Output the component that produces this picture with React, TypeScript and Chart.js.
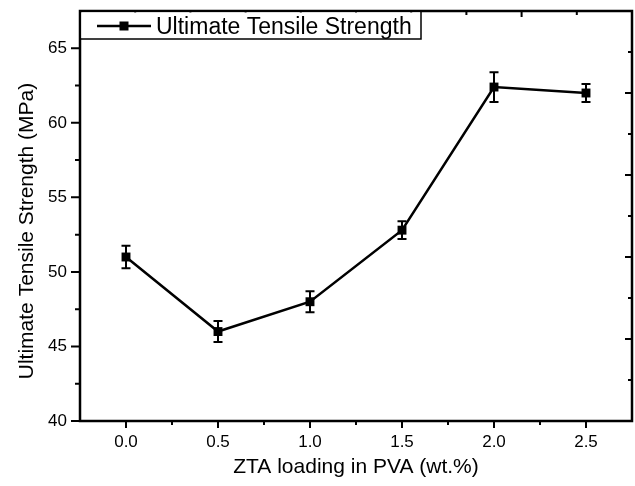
import React, { useEffect, useRef } from "react";
import { Chart, registerables } from "chart.js";

Chart.register(...registerables);

const seriesLabel = "Ultimate Tensile Strength";
const xValues = [0.0, 0.5, 1.0, 1.5, 2.0, 2.5];
const utsValues = [51.0, 46.0, 48.0, 52.8, 62.4, 62.0];
const utsErrors = [0.75, 0.7, 0.7, 0.6, 1.0, 0.6];
const xTickValues = [0.0, 0.5, 1.0, 1.5, 2.0, 2.5];
const xMinorValues = [0.25, 0.75, 1.25, 1.75, 2.25];
const yTickValues = [40, 45, 50, 55, 60, 65];
const yMinorValues = [42.5, 47.5, 52.5, 57.5, 62.5];
const xTitle = "ZTA loading in PVA (wt.%)";
const yTitle = "Ultimate Tensile Strength (MPa)";

const FONT = "'Liberation Sans', Arial, Helvetica, sans-serif";

const framePlugin = {
  id: "framePlugin",
  afterDatasetsDraw(chart: any) {
    const ctx = chart.ctx;
    const xs = chart.scales.x;
    const ys = chart.scales.y;
    const { left, right, top, bottom } = chart.chartArea;
    ctx.save();
    ctx.strokeStyle = "#000";
    ctx.fillStyle = "#000";
    // error bars
    ctx.lineWidth = 2;
    xValues.forEach((xv, i) => {
      const px = xs.getPixelForValue(xv);
      const yHi = ys.getPixelForValue(utsValues[i] + utsErrors[i]);
      const yLo = ys.getPixelForValue(utsValues[i] - utsErrors[i]);
      ctx.beginPath();
      ctx.moveTo(px, yHi);
      ctx.lineTo(px, yLo);
      ctx.moveTo(px - 4.5, yHi);
      ctx.lineTo(px + 4.5, yHi);
      ctx.moveTo(px - 4.5, yLo);
      ctx.lineTo(px + 4.5, yLo);
      ctx.stroke();
    });
    // frame
    ctx.lineWidth = 2.5;
    ctx.strokeRect(left, top, right - left, bottom - top);
    // bottom ticks (outward)
    ctx.lineWidth = 2;
    ctx.beginPath();
    xTickValues.forEach((v) => {
      const px = xs.getPixelForValue(v);
      ctx.moveTo(px, bottom);
      ctx.lineTo(px, bottom + 7);
    });
    xMinorValues.forEach((v) => {
      const px = xs.getPixelForValue(v);
      ctx.moveTo(px, bottom);
      ctx.lineTo(px, bottom + 4);
    });
    // left ticks (outward)
    yTickValues.forEach((v) => {
      const py = ys.getPixelForValue(v);
      ctx.moveTo(left, py);
      ctx.lineTo(left - 9, py);
    });
    yMinorValues.forEach((v) => {
      const py = ys.getPixelForValue(v);
      ctx.moveTo(left, py);
      ctx.lineTo(left - 5, py);
    });
    // top ticks (inward, 10 divisions)
    for (let k = 1; k < 10; k++) {
      const px = left + ((right - left) * k) / 10;
      const len = k % 2 === 0 ? 6 : 4;
      ctx.moveTo(px, top);
      ctx.lineTo(px, top + len);
    }
    // right ticks (inward, 10 divisions)
    for (let k = 1; k < 10; k++) {
      const py = top + ((bottom - top) * k) / 10;
      const len = k % 2 === 0 ? 7 : 4;
      ctx.moveTo(right, py);
      ctx.lineTo(right - len, py);
    }
    ctx.stroke();

    // legend box
    const lx0 = left, ly0 = top, lx1 = 421, ly1 = 39;
    ctx.fillStyle = "#fff";
    ctx.fillRect(lx0 + 1.5, ly0 + 1.5, lx1 - lx0 - 2, ly1 - ly0 - 2);
    ctx.lineWidth = 1.5;
    ctx.strokeStyle = "#000";
    ctx.strokeRect(lx0, ly0, lx1 - lx0, ly1 - ly0);
    ctx.lineWidth = 2.5;
    ctx.beginPath();
    ctx.moveTo(97, 26);
    ctx.lineTo(151, 26);
    ctx.stroke();
    ctx.fillStyle = "#000";
    ctx.fillRect(124 - 4.5, 26 - 4.5, 9, 9);
    ctx.font = `23px ${FONT}`;
    ctx.textAlign = "left";
    ctx.textBaseline = "alphabetic";
    ctx.fillText(seriesLabel, 156, 33.5);

    // axis titles
    ctx.font = `21px ${FONT}`;
    ctx.textAlign = "center";
    ctx.fillText(xTitle, (left + right) / 2, 473);
    ctx.save();
    ctx.translate(33, 231);
    ctx.rotate(-Math.PI / 2);
    ctx.fillText(yTitle, 0, 0);
    ctx.restore();
    ctx.restore();
  },
};

export default function App() {
  const canvasRef = useRef<HTMLCanvasElement | null>(null);

  useEffect(() => {
    document.body.style.margin = "0";
    const canvas = canvasRef.current;
    if (!canvas) return;
    const chart = new Chart(canvas, {
      type: "line",
      data: {
        datasets: [
          {
            label: seriesLabel,
            data: xValues.map((x, i) => ({ x, y: utsValues[i] })),
            borderColor: "#000",
            backgroundColor: "#000",
            borderWidth: 2.5,
            pointStyle: "rect",
            pointRadius: 6.3,
            pointBorderWidth: 0,
            pointBackgroundColor: "#000",
            tension: 0,
            clip: false as any,
          },
        ],
      },
      options: {
        animation: false,
        responsive: false,
        maintainAspectRatio: false,
        devicePixelRatio: 1,
        layout: { autoPadding: false, padding: { left: 0, right: 3, top: 11, bottom: 0 } },
        plugins: {
          legend: { display: false },
          tooltip: { enabled: false },
        },
        scales: {
          x: {
            type: "linear",
            min: -0.25,
            max: 2.75,
            grid: { display: false, drawTicks: false },
            border: { display: false },
            afterBuildTicks: (scale: any) => {
              scale.ticks = xTickValues.map((v) => ({ value: v }));
            },
            afterFit: (scale: any) => {
              scale.height = 65;
              scale.paddingLeft = 0;
              scale.paddingRight = 0;
              scale.paddingTop = 0;
              scale.paddingBottom = 0;
            },
            ticks: {
              padding: 11,
              color: "#000",
              font: { family: FONT, size: 17 },
              maxRotation: 0,
              autoSkip: false,
              callback: (v: any) => Number(v).toFixed(1),
            },
          },
          y: {
            type: "linear",
            min: 40,
            max: 67.5,
            grid: { display: false, drawTicks: false },
            border: { display: false },
            afterBuildTicks: (scale: any) => {
              scale.ticks = yTickValues.map((v) => ({ value: v }));
            },
            afterFit: (scale: any) => {
              scale.width = 80;
              scale.paddingLeft = 0;
              scale.paddingRight = 0;
              scale.paddingTop = 0;
              scale.paddingBottom = 0;
            },
            ticks: {
              padding: 13,
              color: "#000",
              font: { family: FONT, size: 17 },
              autoSkip: false,
              callback: (v: any) => String(v),
            },
          },
        },
      },
      plugins: [framePlugin],
    });
    return () => chart.destroy();
  }, []);

  return (
    <div style={{ position: "absolute", left: 0, top: 0, width: 635, height: 486, background: "#fff" }}>
      <canvas ref={canvasRef} width={635} height={486} style={{ display: "block", width: 635, height: 486 }} />
    </div>
  );
}
